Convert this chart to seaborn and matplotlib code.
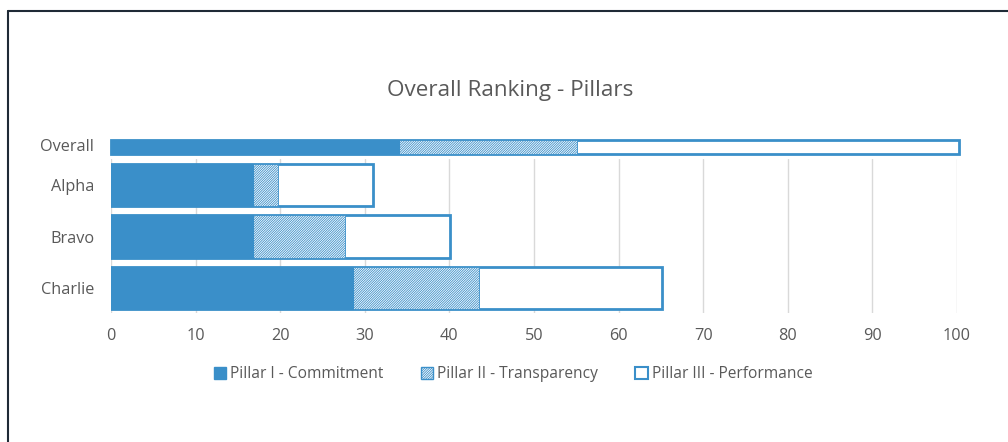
import matplotlib
matplotlib.use("Agg")
import matplotlib.pyplot as plt
import seaborn as sns
import pandas as pd
from matplotlib.lines import Line2D
from matplotlib.patches import Patch

# values
categories = ["Overall", "Alpha", "Bravo", "Charlie"]
pillar1 = [34.0, 16.8, 16.8, 28.6]
pillar2 = [21.1, 2.9, 10.9, 14.9]
pillar3 = [45.1, 11.3, 12.4, 21.6]
series_names = ["Pillar I - Commitment", "Pillar II - Transparency", "Pillar III - Performance"]
xticks = [0, 10, 20, 30, 40, 50, 60, 70, 80, 90, 100]

BLUE = "#3a8fc9"
GREY = "#595959"
HATCH = "/" * 14

sns.set_theme(style="white")
plt.rcParams["font.family"] = ["Open Sans", "DejaVu Sans"]
plt.rcParams["hatch.color"] = BLUE
plt.rcParams["hatch.linewidth"] = 0.6

df = pd.DataFrame({"cat": categories, "p1": pillar1, "p2": pillar2, "p3": pillar3})
df["c2"] = df["p1"] + df["p2"]
df["c3"] = df["c2"] + df["p3"]

fig = plt.figure(figsize=(10.08, 4.42), dpi=100)
ax = fig.add_axes([111 / 1008, 1 - 313 / 442, 846 / 1008, 154 / 442])

# gridlines behind bars
for t in xticks:
    ax.axvline(t, color="#d9d9d9", lw=1, zorder=0)

# draw cumulative layers back to front
sns.barplot(data=df, x="c3", y="cat", orient="h", color="white", edgecolor=BLUE,
            linewidth=2, width=0.82, saturation=1, ax=ax, zorder=2)
n = len(categories)
sns.barplot(data=df, x="c2", y="cat", orient="h", color="white", edgecolor=BLUE,
            linewidth=0.6, width=0.82, saturation=1, ax=ax, zorder=3, hatch=HATCH)
sns.barplot(data=df, x="p1", y="cat", orient="h", color=BLUE, edgecolor=BLUE,
            linewidth=0.8, width=0.82, saturation=1, ax=ax, zorder=4)

# Overall row sits above the plot area as a thin bar
overall_y = 0.255
overall_h = 0.27
for i, p in enumerate(ax.patches):
    if i % n == 0:
        p.set_y(overall_y - overall_h / 2)
        p.set_height(overall_h)
        p.set_clip_on(False)

ax.set_xlim(0, 100)
ax.set_xticks(xticks)
ax.set_yticks([1, 2, 3])
ax.set_yticklabels(categories[1:])
ax.set_ylim(3.49, 0.49)
ax.set_xlabel("")
ax.set_ylabel("")
ax.tick_params(axis="both", length=0, labelsize=11.7, labelcolor=GREY)
ax.tick_params(axis="x", pad=11)
ax.tick_params(axis="y", pad=12)
for s in ax.spines.values():
    s.set_visible(False)

# label for the Overall row, placed like a tick label
ax.annotate(categories[0], xy=(0, overall_y), xycoords=("axes fraction", "data"),
            xytext=(-12, 0), textcoords="offset points", ha="right", va="center",
            fontsize=11.7, color=GREY, annotation_clip=False)

fig.text(510 / 1008, 1 - 91 / 442, "Overall Ranking - Pillars", ha="center", va="center",
         fontsize=16.2, color=GREY)

handles = [
    Patch(facecolor=BLUE, edgecolor=BLUE),
    Patch(facecolor="white", edgecolor=BLUE, hatch=HATCH),
    Patch(facecolor="white", edgecolor=BLUE, linewidth=1.5),
]
fig.legend(handles, series_names, loc="center", bbox_to_anchor=(513 / 1008, 1 - 374 / 442),
           ncol=3, frameon=False, fontsize=11.2, handlelength=0.8, handleheight=0.8,
           handletextpad=0.25, columnspacing=2.4, labelcolor=GREY)

# frame of the original chart area (top and left edges)
fig.add_artist(Line2D([8 / 1008, 1], [1 - 11 / 442, 1 - 11 / 442], color="#1f2a36", lw=1.5))
fig.add_artist(Line2D([8 / 1008, 8 / 1008], [0, 1 - 11 / 442], color="#1f2a36", lw=1.5))

fig.savefig("out.png", dpi=100, facecolor="white")
